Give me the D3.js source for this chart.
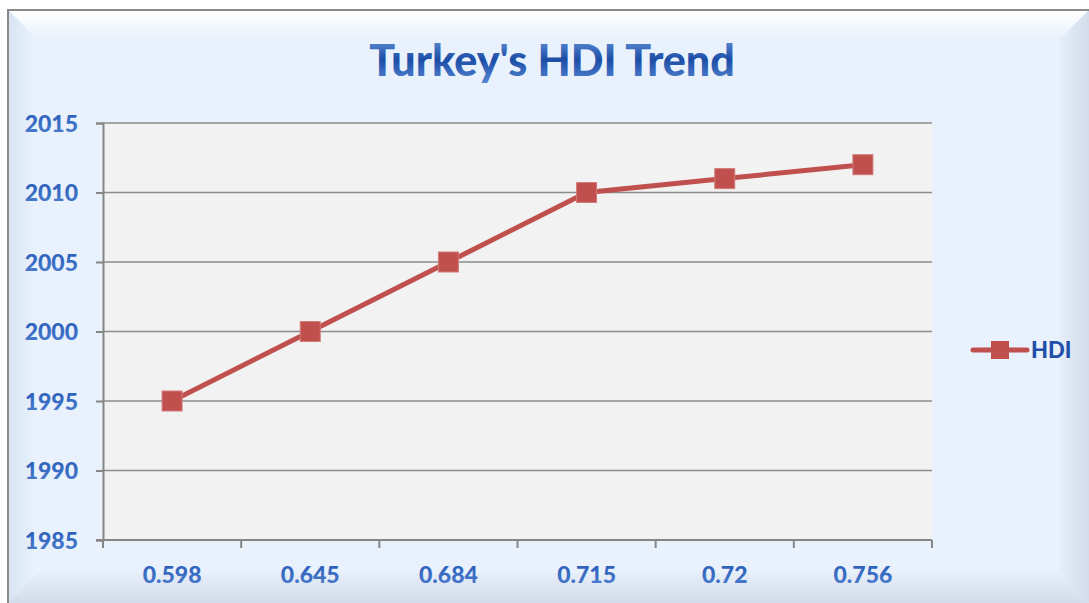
<!DOCTYPE html>
<html>
<head>
<meta charset="utf-8">
<script src="https://cdn.jsdelivr.net/npm/d3@7"></script>
<style>
  html, body { margin: 0; padding: 0; background: #fff; overflow: hidden; }
  text { font-family: Lato, "Open Sans", sans-serif; font-weight: 900; }
</style>
</head>
<body>
<script>
// chart data
const hdiLabels = ["0.598", "0.645", "0.684", "0.715", "0.72", "0.756"];
const years = [1995, 2000, 2005, 2010, 2011, 2012];
const yTicks = [1985, 1990, 1995, 2000, 2005, 2010, 2015];
const seriesName = "HDI";
const title = "Turkey's HDI Trend";

const width = 1089, height = 603;
const plot = { left: 103, top: 123, right: 932, bottom: 540 };

const svg = d3.select("body").append("svg")
    .attr("width", width)
    .attr("height", height);

const defs = svg.append("defs");

// background bevel gradients
const bg = defs.append("linearGradient").attr("id", "bgTop").attr("x1", 0).attr("y1", 0).attr("x2", 0).attr("y2", 1);
bg.append("stop").attr("offset", "0").attr("stop-color", "#ffffff");
bg.append("stop").attr("offset", "1").attr("stop-color", "#e8f1fc");

const rightG = defs.append("linearGradient").attr("id", "bgRight").attr("x1", 0).attr("y1", 0).attr("x2", 1).attr("y2", 0);
rightG.append("stop").attr("offset", "0").attr("stop-color", "#e6eef9");
rightG.append("stop").attr("offset", "1").attr("stop-color", "#d2dcea");

const bottomG = defs.append("linearGradient").attr("id", "bgBottom").attr("x1", 0).attr("y1", 0).attr("x2", 0).attr("y2", 1);
bottomG.append("stop").attr("offset", "0").attr("stop-color", "#e6eef9");
bottomG.append("stop").attr("offset", "1").attr("stop-color", "#d3dcea");

const leftG = defs.append("linearGradient").attr("id", "bgLeft").attr("x1", 0).attr("y1", 0).attr("x2", 1).attr("y2", 0);
leftG.append("stop").attr("offset", "0").attr("stop-color", "#d8e4f3");
leftG.append("stop").attr("offset", "1").attr("stop-color", "#eaf3fd");

const titleG = defs.append("linearGradient").attr("id", "titleGrad").attr("x1", 0).attr("y1", 0).attr("x2", 0).attr("y2", 1);
titleG.append("stop").attr("offset", "0").attr("stop-color", "#6d9be0");
titleG.append("stop").attr("offset", "0.5").attr("stop-color", "#1c4da6");
titleG.append("stop").attr("offset", "1").attr("stop-color", "#5a8ad6");

const labelG = defs.append("linearGradient").attr("id", "labelGrad").attr("x1", 0).attr("y1", 0).attr("x2", 0).attr("y2", 1);
labelG.append("stop").attr("offset", "0").attr("stop-color", "#2458b4");
labelG.append("stop").attr("offset", "1").attr("stop-color", "#4d7fd0");

// frame
const fx0 = 8, fy0 = 10, fx1 = 1089, fy1 = 603, bev = 30;
svg.append("rect").attr("x", fx0).attr("y", fy0).attr("width", fx1 - fx0).attr("height", fy1 - fy0).attr("fill", "#e8f1fc");
svg.append("polygon").attr("points", [[fx0, fy0], [fx1, fy0], [fx1 - bev, fy0 + bev], [fx0 + bev, fy0 + bev]].join(" ")).attr("fill", "url(#bgTop)");
svg.append("polygon").attr("points", [[fx0, fy0], [fx0 + bev, fy0 + bev], [fx0 + bev, fy1 - bev], [fx0, fy1]].join(" ")).attr("fill", "url(#bgLeft)");
svg.append("polygon").attr("points", [[fx1, fy0], [fx1, fy1], [fx1 - bev, fy1 - bev], [fx1 - bev, fy0 + bev]].join(" ")).attr("fill", "url(#bgRight)");
svg.append("polygon").attr("points", [[fx0, fy1], [fx0 + bev, fy1 - bev], [fx1 - bev, fy1 - bev], [fx1, fy1]].join(" ")).attr("fill", "url(#bgBottom)");
svg.append("path").attr("d", `M${fx0},${fy1}V${fy0}H${fx1}`).attr("fill", "none").attr("stroke", "#8a8a8a").attr("stroke-width", 2);

// title
svg.append("text")
    .attr("x", 552).attr("y", 76)
    .attr("text-anchor", "middle")
    .attr("font-size", 43)
    .attr("fill", "url(#titleGrad)")
    .text(title);

// scales
const x = d3.scaleBand().domain(hdiLabels).range([plot.left, plot.right]);
const y = d3.scaleLinear().domain([1985, 2015]).range([plot.bottom, plot.top]);

// plot area
svg.append("rect")
    .attr("x", plot.left).attr("y", plot.top)
    .attr("width", plot.right - plot.left).attr("height", plot.bottom - plot.top)
    .attr("fill", "#f2f2f2");

// gridlines
svg.append("g").selectAll("line")
    .data(yTicks.slice(1))
    .join("line")
    .attr("x1", plot.left).attr("x2", plot.right)
    .attr("y1", d => y(d)).attr("y2", d => y(d))
    .attr("stroke", "#8c8c8c").attr("stroke-width", 1.5);

// y axis
const yAxis = svg.append("g")
    .attr("transform", `translate(${plot.left},0)`)
    .call(d3.axisLeft(y).tickValues(yTicks).tickFormat(d3.format("d")).tickSize(7).tickPadding(18));
yAxis.select(".domain").attr("stroke", "#868686").attr("stroke-width", 2);
yAxis.selectAll(".tick line").attr("stroke", "#868686").attr("stroke-width", 2);
yAxis.selectAll(".tick text")
    .attr("font-size", 23).attr("font-family", "Lato, sans-serif").attr("font-weight", 900)
    .attr("dy", "0.36em")
    .attr("fill", "url(#labelGrad)");

// x axis with ticks between categories
const boundaries = hdiLabels.map(d => x(d)).concat([plot.right]);
const xAxis = svg.append("g");
xAxis.append("line")
    .attr("x1", plot.left - 7).attr("x2", plot.right)
    .attr("y1", plot.bottom).attr("y2", plot.bottom)
    .attr("stroke", "#868686").attr("stroke-width", 2);
xAxis.selectAll(".tk")
    .data(boundaries)
    .join("line")
    .attr("x1", d => d).attr("x2", d => d)
    .attr("y1", plot.bottom).attr("y2", plot.bottom + 8)
    .attr("stroke", "#868686").attr("stroke-width", 2);
xAxis.selectAll("text")
    .data(hdiLabels)
    .join("text")
    .attr("x", d => x(d) + x.bandwidth() / 2)
    .attr("y", 583)
    .attr("text-anchor", "middle")
    .attr("font-size", 23)
    .attr("fill", "url(#labelGrad)")
    .text(d => d);

// series
const pts = hdiLabels.map((d, i) => ({ cx: x(d) + x.bandwidth() / 2, cy: y(years[i]) }));
const lineRed = "#c0504d";
svg.append("path")
    .datum(pts)
    .attr("d", d3.line().x(d => d.cx).y(d => d.cy))
    .attr("fill", "none")
    .attr("stroke", lineRed)
    .attr("stroke-width", 5)
    .attr("stroke-linejoin", "round")
    .attr("stroke-linecap", "round");
svg.append("g").selectAll("rect")
    .data(pts)
    .join("rect")
    .attr("x", d => d.cx - 10).attr("y", d => d.cy - 10)
    .attr("width", 20).attr("height", 20)
    .attr("fill", lineRed)
    .attr("stroke", "#d27c79").attr("stroke-width", 1);

// legend
const lg = svg.append("g").attr("transform", "translate(0,350)");
lg.append("line").attr("x1", 973).attr("x2", 1027).attr("y1", 0).attr("y2", 0)
    .attr("stroke", lineRed).attr("stroke-width", 5).attr("stroke-linecap", "round");
lg.append("rect").attr("x", 991).attr("y", -9).attr("width", 18).attr("height", 18).attr("fill", lineRed);
lg.append("text").attr("x", 1031).attr("y", 8)
    .attr("font-size", 22)
    .attr("fill", "#1f4fa8")
    .text(seriesName);
</script>
</body>
</html>
